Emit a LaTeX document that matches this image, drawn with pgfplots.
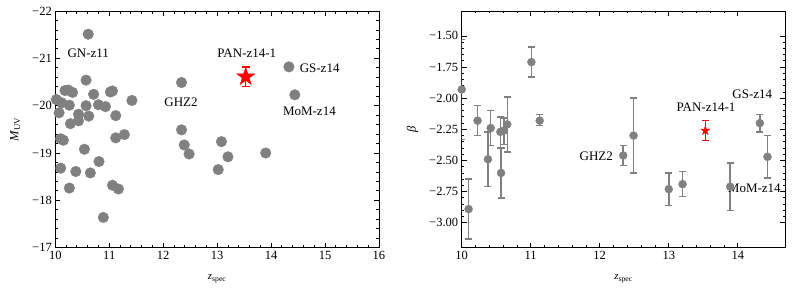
\documentclass[border=0pt]{standalone}
\usepackage{fontspec}
\setmainfont{Liberation Serif}
\usepackage{pgfplots}
\pgfplotsset{compat=1.18}
\definecolor{mgray}{RGB}{128,128,128}
\pgfdeclareplotmark{fstar}{%
  \pgfpathmoveto{\pgfpointpolar{90}{\pgfplotmarksize}}%
  \pgfpathlineto{\pgfpointpolar{126}{0.382\pgfplotmarksize}}%
  \pgfpathlineto{\pgfpointpolar{162}{\pgfplotmarksize}}%
  \pgfpathlineto{\pgfpointpolar{198}{0.382\pgfplotmarksize}}%
  \pgfpathlineto{\pgfpointpolar{234}{\pgfplotmarksize}}%
  \pgfpathlineto{\pgfpointpolar{270}{0.382\pgfplotmarksize}}%
  \pgfpathlineto{\pgfpointpolar{306}{\pgfplotmarksize}}%
  \pgfpathlineto{\pgfpointpolar{342}{0.382\pgfplotmarksize}}%
  \pgfpathlineto{\pgfpointpolar{18}{\pgfplotmarksize}}%
  \pgfpathlineto{\pgfpointpolar{54}{0.382\pgfplotmarksize}}%
  \pgfpathclose\pgfusepathqfillstroke}
\pgfplotsset{
  panel/.style={
    scale only axis, width=323.7pt, height=236.7pt,
    xmin=10, tick align=inside, xtick pos=both, ytick pos=both,
    minor x tick num=4, minor y tick num=4,
    major tick length=5pt, minor tick length=2.5pt,
    axis line style={line width=0.9pt},
    every tick/.style={line width=0.8pt, black},
    /pgf/number format/assume math mode=true,
    tick label style={font=\fontsize{12.5}{15}\selectfont},
    xlabel={\fontsize{11}{13}\selectfont\textit{z}\textsubscript{spec}},
    xlabel style={yshift=-8pt},
    label style={font=\fontsize{12.5}{15}\selectfont},
  },
}
\tikzset{annot/.style={font=\fontsize{13}{15}\selectfont}}
\begin{document}
\begin{tikzpicture}
\path[use as bounding box] (0,0) rectangle (792pt,292pt);
\begin{axis}[panel, at={(55.3pt,44.3pt)}, anchor=south west,
  xmax=16, ymin=-22, ymax=-17, y dir=reverse,
  xtick={10,11,12,13,14,15,16},
  ytick={-22,-21,-20,-19,-18,-17},
  yticklabels={−22,−21,−20,−19,−18,−17},
  ylabel={\textit{M}\textsubscript{UV}}, ylabel style={yshift=5pt}]
\addplot[only marks, mark=*, mark size=5.3pt, mark options={draw=mgray, fill=mgray}] coordinates {
(10.61,-21.51) (12.34,-20.49) (14.33,-20.82) (14.44,-20.23) (10.57,-20.54)
(10.02,-20.13) (10.12,-20.06) (10.18,-20.32) (10.24,-20.33) (10.32,-20.28)
(10.26,-20.01) (10.07,-19.85) (10.43,-19.82) (10.43,-19.68) (10.28,-19.62)
(10.57,-20.00) (10.62,-19.78) (10.71,-20.24) (10.80,-20.02) (10.93,-19.98)
(11.02,-20.29) (11.06,-20.31) (11.12,-19.79) (11.42,-20.11) (11.28,-19.39)
(11.12,-19.32) (10.10,-19.30) (10.15,-19.27) (10.54,-19.08) (10.10,-18.68)
(10.38,-18.61) (10.65,-18.58) (10.81,-18.82) (10.26,-18.26) (11.06,-18.32)
(11.17,-18.24) (10.89,-17.64) (12.34,-19.49) (12.39,-19.17) (12.48,-18.98)
(13.08,-19.24) (13.20,-18.92) (13.02,-18.65) (13.90,-19.00)
};
\addplot[only marks, mark=fstar, mark size=9.5pt, red, mark options={draw=red, fill=red},
  error bars/.cd, y dir=both, y explicit,
  error bar style={line width=1.3pt, red},
  error mark options={rotate=90, mark size=4pt, line width=1.3pt, red}]
  coordinates {(13.53,-20.61) +- (0,0.21)};
\node[annot] at (axis cs:10.61,-21.11) {GN-z11};
\node[annot] at (axis cs:13.55,-21.10) {PAN-z14-1};
\node[annot] at (axis cs:14.90,-20.79) {GS-z14};
\node[annot] at (axis cs:12.33,-20.08) {GHZ2};
\node[annot] at (axis cs:14.71,-19.89) {MoM-z14};
\end{axis}

\begin{axis}[panel, at={(461.7pt,44.3pt)}, anchor=south west,
  xmax=14.69, ymin=-3.2, ymax=-1.3,
  xtick={10,11,12,13,14},
  ytick={-3,-2.75,-2.5,-2.25,-2,-1.75,-1.5},
  yticklabels={−3.00,−2.75,−2.50,−2.25,−2.00,−1.75,−1.50},
  ylabel={\textit{β}}, ylabel style={yshift=4pt}]
\addplot[only marks, mark=*, mark size=4pt, mark options={draw=mgray, fill=mgray},
  error bars/.cd, y dir=both, y explicit,
  error bar style={line width=1.5pt, mgray},
  error mark options={rotate=90, mark size=3.5pt, line width=1.5pt, mgray}]
  coordinates {
(10.00,-1.93) +- (0,0.40)
(10.10,-2.89) +- (0,0.24)
(10.23,-2.18) +- (0,0.12)
(10.38,-2.49) +- (0,0.22)
(10.42,-2.24) +- (0,0.14)
(10.56,-2.27) += (0,0.12) -= (0,0.13)
(10.57,-2.60) +- (0,0.20)
(10.61,-2.26) += (0,0.10) -= (0,0.11)
(10.66,-2.21) +- (0,0.22)
(11.01,-1.71) +- (0,0.12)
(11.13,-2.18) += (0,0.05) -= (0,0.04)
(12.34,-2.46) +- (0,0.08)
(12.49,-2.30) +- (0,0.30)
(13.00,-2.73) +- (0,0.13)
(13.20,-2.69) +- (0,0.10)
(13.89,-2.71) +- (0,0.19)
(14.32,-2.20) +- (0,0.07)
(14.43,-2.47) +- (0,0.17)
};
\addplot[only marks, mark=fstar, mark size=4.8pt, red, mark options={draw=red, fill=red},
  error bars/.cd, y dir=both, y explicit,
  error bar style={line width=1.3pt, red},
  error mark options={rotate=90, mark size=3.5pt, line width=1.3pt, red}]
  coordinates {(13.53,-2.26) +- (0,0.08)};
\node[annot] at (axis cs:14.21,-1.97) {GS-z14};
\node[annot] at (axis cs:13.54,-2.07) {PAN-z14-1};
\node[annot] at (axis cs:11.95,-2.47) {GHZ2};
\node[annot] at (axis cs:14.24,-2.72) {MoM-z14};
\end{axis}
\end{tikzpicture}
\end{document}
